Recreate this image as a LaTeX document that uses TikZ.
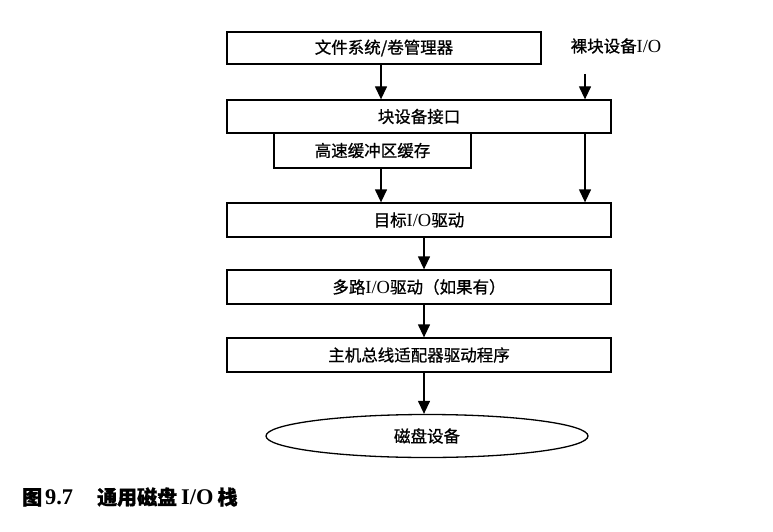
\documentclass[tikz,border=0pt]{standalone}
\usepackage{fontspec}
\setmainfont[Scale=1.12]{Liberation Serif}
\newfontfamily\cjk[FakeBold=0.8]{Noto Sans CJK SC}
\usetikzlibrary{arrows.meta,shapes.geometric}
\begin{document}
\begin{tikzpicture}[x=1pt,y=-1pt,
  txt/.style={font=\fontsize{16.5}{18}\selectfont},
  box/.style={draw,line width=1.3pt,minimum width=384pt,minimum height=34pt,inner sep=0pt,txt},
  arr/.style={line width=1.3pt,-{Triangle[width=12pt,length=13pt]}},
  lbl/.style={inner sep=0pt,txt}]
\useasboundingbox (0,0) rectangle (773,532);
\node[box,minimum width=314pt,minimum height=32pt] (fs) at (384,48) {{\cjk 文件系统/卷管理器}};
\node[lbl] (raw) at (616,46) {{\cjk 裸块设备}I/O};
\node[box,minimum height=33pt] (bdi) at (419,116.5) {{\cjk 块设备接口}};
\node[box,minimum width=197pt,minimum height=35pt] (cache) at (372.5,150.5) {{\cjk 高速缓冲区缓存}};
\node[box] (tgt) at (419,220) {{\cjk 目标}I/O{\cjk 驱动}};
\node[box] (mp) at (419,287) {{\cjk 多路}I/O{\cjk 驱动（如果有）}};
\node[box] (hba) at (419,355) {{\cjk 主机总线适配器驱动程序}};
\node[draw,ellipse,line width=1.3pt,minimum width=322pt,minimum height=43pt,inner sep=0pt,txt] (disk) at (427,436) {{\cjk 磁盘设备}};
\node[anchor=west,inner sep=0pt,font=\fontsize{20}{22}\selectfont\bfseries] (cap) at (22,497) {{\cjk 图}\hspace{3pt}9.7\hspace{24pt}{\cjk 通用磁盘}\hspace{4pt}I/O\hspace{4pt}{\cjk 栈}};
\coordinate (L) at (381,0);
\coordinate (R) at (585,0);
\coordinate (M) at (424,0);
\draw[arr] ([yshift=-20pt]raw.south -| R) -- (bdi.north -| R);
\draw[arr] (fs.south -| L) -- (bdi.north -| L);
\draw[arr] (cache.south -| L) -- (tgt.north -| L);
\draw[arr] (bdi.south -| R) -- (tgt.north -| R);
\draw[arr] (tgt.south -| M) -- (mp.north -| M);
\draw[arr] (mp.south -| M) -- (hba.north -| M);
\draw[arr] (hba.south -| M) -- (disk.north -| M);
\end{tikzpicture}
\end{document}
